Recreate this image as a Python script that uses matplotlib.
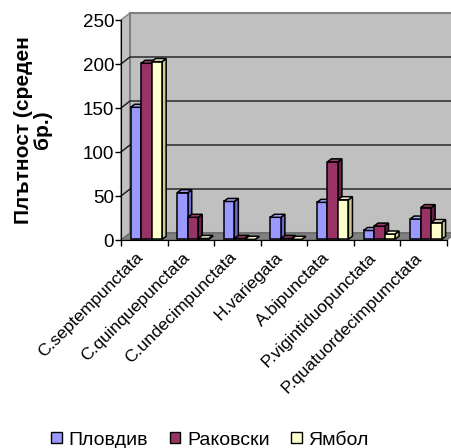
import matplotlib
matplotlib.use("Agg")
import matplotlib.pyplot as plt
from matplotlib.patches import Polygon, Patch
from matplotlib.transforms import ScaledTranslation

categories = ["C.septempunctata", "C.quinquepunctata", "C.undecimpunctata",
              "H.variegata", "A.bipunctata", "P.vigintiduopunctata",
              "P.quatuordecimpumctata"]
series_names = ["Пловдив", "Раковски", "Ямбол"]
plovdiv = [150, 53, 43, 25, 42, 10, 23]
rakovski = [200, 25, 1, 1, 88, 15, 36]
yambol = [202, 1, 0, 0, 45, 6, 19]
yticks = [0, 50, 100, 150, 200, 250]

series = [plovdiv, rakovski, yambol]
front_cols = ["#9999FF", "#993366", "#FFFFCC"]
top_cols = ["#A8A8FF", "#A33D70", "#FFFFD9"]
side_cols = ["#6B6BCC", "#662244", "#CCCC99"]

plt.rcParams['font.family'] = ['Liberation Sans', 'DejaVu Sans']

W, H = 451, 448
fig = plt.figure(figsize=(W / 100, H / 100), dpi=100)
L, R, B, T = 121, 447, 240, 20
ax = fig.add_axes([L / W, 1 - B / H, (R - L) / W, (B - T) / H])
n = len(categories)
ymax = 250
ax.set_xlim(0, n)
ax.set_ylim(0, ymax)

pxx = (R - L) / n
pxy = (B - T) / ymax
dx = 9 / pxx
dy = 7 / pxy

wall = "#C0C0C0"
ax.add_patch(Polygon([(0, 0), (dx, dy), (dx, ymax + dy), (0, ymax)], closed=True,
                     facecolor=wall, edgecolor="#808080", lw=1, clip_on=False, zorder=1))
ax.add_patch(Polygon([(dx, dy), (n + dx, dy), (n + dx, ymax + dy), (dx, ymax + dy)], closed=True,
                     facecolor=wall, edgecolor="#808080", lw=1.5, clip_on=False, zorder=1))
ax.add_patch(Polygon([(0, 0), (n, 0), (n + dx, dy), (dx, dy)], closed=True,
                     facecolor="#808080", edgecolor="#666666", lw=0.8, clip_on=False, zorder=2))
for v in yticks[1:-1]:
    ax.plot([0, dx, n + dx], [v, v + dy, v + dy], color="#1a1a1a", lw=1.0,
            clip_on=False, zorder=2)

bw = 0.225
bdx = 4 / pxx
bdy = 3 / pxy
base = 0.8
shift = 0.046
for i in range(n):
    for j, vals in enumerate(series):
        h = vals[i]
        x0 = i + 0.5 + shift + (j - 1.5) * bw
        x1 = x0 + bw
        y0 = base
        y1 = base + h
        z = 3 + i * 0.1 + j * 0.01
        ax.add_patch(Polygon([(x1, y0), (x1 + bdx, y0 + bdy), (x1 + bdx, y1 + bdy), (x1, y1)],
                             closed=True, facecolor=side_cols[j], edgecolor="black",
                             lw=1.1, clip_on=False, zorder=z))
        if h > 0:
            ax.add_patch(Polygon([(x0, y0), (x1, y0), (x1, y1), (x0, y1)], closed=True,
                                 facecolor=front_cols[j], edgecolor="black", lw=1.1,
                                 clip_on=False, zorder=z))
        ax.add_patch(Polygon([(x0, y1), (x1, y1), (x1 + bdx, y1 + bdy), (x0 + bdx, y1 + bdy)],
                             closed=True, facecolor=top_cols[j], edgecolor="black",
                             lw=1.1, clip_on=False, zorder=z))

for s in ["top", "right"]:
    ax.spines[s].set_visible(False)
ax.spines["left"].set_zorder(10)
ax.spines["bottom"].set_zorder(10)
ax.set_yticks(yticks)
ax.set_yticklabels([str(v) for v in yticks], fontsize=13.5)
ax.tick_params(axis="y", direction="out", length=4, width=1, pad=1)

ax.set_xticks(range(n + 1))
ax.set_xticklabels([])
ax.tick_params(axis="x", which="major", direction="out", length=4, width=1)
ax.set_xticks([i + 0.5 for i in range(n)], minor=True)
ax.set_xticklabels(categories, minor=True, rotation=45, ha="right", va="top",
                   rotation_mode="anchor", fontsize=12.5)
ax.tick_params(axis="x", which="minor", length=0, pad=7)
off = ScaledTranslation(-9 / 100, 0, fig.dpi_scale_trans)
for lbl in ax.get_xticklabels(minor=True):
    lbl.set_transform(lbl.get_transform() + off)

ax.set_ylabel("Плътност (среден\nбр.)", fontsize=15, fontweight="bold",
              linespacing=1.0)
ax.yaxis.set_label_coords(-(L - 52) / (R - L), 0.5)

handles = [Patch(facecolor=c, edgecolor="black", lw=1) for c in front_cols]
fig.legend(handles, series_names, loc="center", bbox_to_anchor=(210 / W, 1 - 440 / H),
           ncol=3, frameon=False, fontsize=14, handlelength=0.55, handleheight=0.55,
           handletextpad=0.35, columnspacing=1.1, borderaxespad=0)

fig.savefig("out.png", dpi=100)
